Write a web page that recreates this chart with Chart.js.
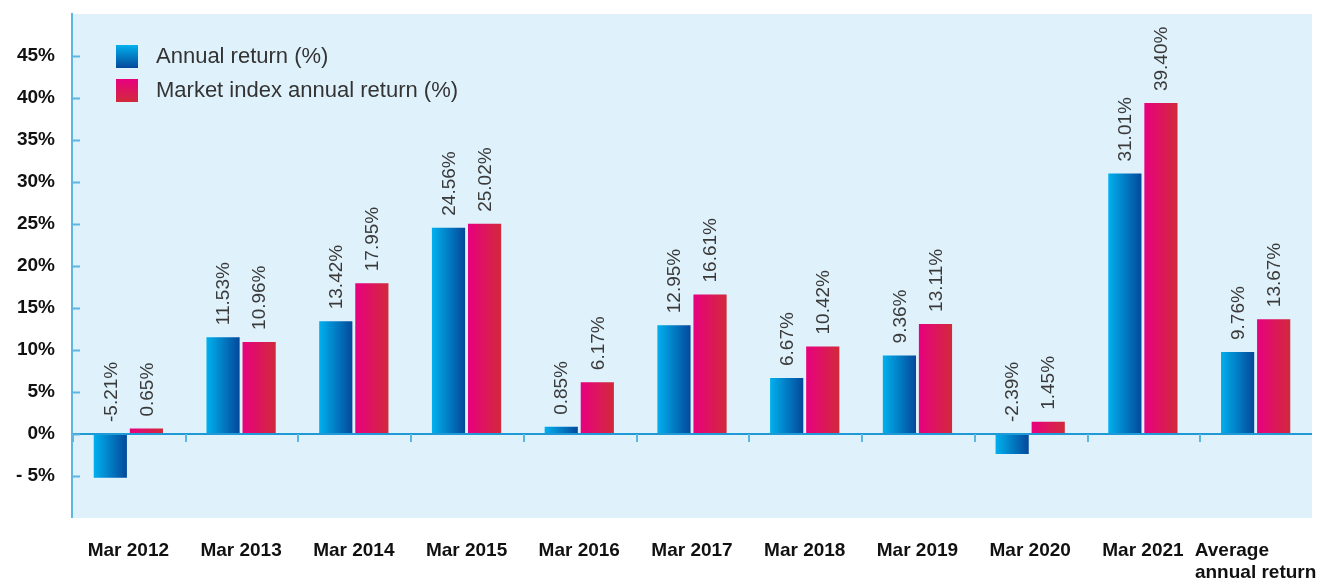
<!DOCTYPE html>
<html>
<head>
<meta charset="utf-8">
<script src="https://cdn.jsdelivr.net/npm/chart.js@4.4.1/dist/chart.umd.min.js"></script>
<style>
  html, body { margin: 0; padding: 0; background: #fff; }
  #wrap { width: 1323px; height: 580px; }
</style>
</head>
<body>
<div id="wrap"><canvas id="rendimientoChart" width="1323" height="580"></canvas></div>
<script>
// Datos
const categorias = ['Mar 2012', 'Mar 2013', 'Mar 2014', 'Mar 2015', 'Mar 2016', 'Mar 2017',
    'Mar 2018', 'Mar 2019', 'Mar 2020', 'Mar 2021', ['Average         ', 'annual return']];
const rentabilidadAnual = [-5.21, 11.53, 13.42, 24.56, 0.85, 12.95, 6.67, 9.36, -2.39, 31.01, 9.76];
const rentabilidadIndice = [0.65, 10.96, 17.95, 25.02, 6.17, 16.61, 10.42, 13.11, 1.45, 39.40, 13.67];
const ticksEjeY = [-5, 0, 5, 10, 15, 20, 25, 30, 35, 40, 45];
const etiquetasSeries = ['Annual return (%)', 'Market index annual return (%)'];

const FUENTE = "'Liberation Sans', Arial, Helvetica, sans-serif";

// Colores de los degradados [izquierda/arriba, derecha/abajo]
const degradados = [
    ['#00b0ee', '#04489a'],
    ['#e8007f', '#d12a3b']
];

// Fondo del área del gráfico + marcas de los ejes
const fondoPlugin = {
    id: 'fondo',
    beforeDraw(chart) {
        const { ctx, chartArea } = chart;
        ctx.save();
        ctx.fillStyle = '#dff1fb';
        ctx.fillRect(chartArea.left, chartArea.top, chartArea.right - chartArea.left, chartArea.bottom - chartArea.top);
        ctx.restore();
    },
    afterDraw(chart) {
        const { ctx, scales } = chart;
        const x = scales.x, y = scales.y;
        const y0 = y.getPixelForValue(0);
        ctx.save();
        ctx.strokeStyle = '#5db5e3';
        ctx.lineWidth = 2;
        // marcas del eje Y (hacia dentro)
        ticksEjeY.forEach(v => {
            const py = Math.round(y.getPixelForValue(v)) + 0.5;
            ctx.beginPath();
            ctx.moveTo(x.left, py);
            ctx.lineTo(x.left + 8, py);
            ctx.stroke();
        });
        // marcas entre categorías bajo la línea del cero
        const paso = x.getPixelForValue(1) - x.getPixelForValue(0);
        for (let i = 0; i < categorias.length; i++) {
            const px = Math.round(x.getPixelForValue(i) - paso / 2) + 1;
            ctx.beginPath();
            ctx.moveTo(px, y0);
            ctx.lineTo(px, y0 + 8);
            ctx.stroke();
        }
        ctx.restore();
    }
};

// Degradado horizontal en cada barra
const degradadoPlugin = {
    id: 'degradado',
    beforeDatasetsDraw(chart) {
        const ctx = chart.ctx;
        chart.data.datasets.forEach((ds, di) => {
            const meta = chart.getDatasetMeta(di);
            meta.data.forEach(bar => {
                const izq = bar.x - bar.width / 2;
                const g = ctx.createLinearGradient(izq, 0, izq + bar.width, 0);
                g.addColorStop(0, degradados[di][0]);
                g.addColorStop(1, degradados[di][1]);
                bar.options = Object.assign({}, bar.options, { backgroundColor: g });
            });
        });
    }
};

// Etiquetas de valor giradas sobre cada barra
const etiquetasPlugin = {
    id: 'etiquetas',
    afterDatasetsDraw(chart) {
        const ctx = chart.ctx;
        const y0 = chart.scales.y.getPixelForValue(0);
        ctx.save();
        ctx.font = '19px ' + FUENTE;
        ctx.fillStyle = '#3a3a3a';
        ctx.textAlign = 'left';
        ctx.textBaseline = 'middle';
        chart.data.datasets.forEach((ds, di) => {
            const meta = chart.getDatasetMeta(di);
            meta.data.forEach((bar, i) => {
                const v = ds.data[i];
                const arriba = v >= 0 ? bar.y : y0;
                ctx.save();
                ctx.translate(bar.x + 1, arriba - 12);
                ctx.rotate(-Math.PI / 2);
                ctx.fillText(v.toFixed(2) + '%', 0, 0);
                ctx.restore();
            });
        });
        ctx.restore();
    }
};

// Leyenda dentro del área del gráfico
const leyendaPlugin = {
    id: 'leyendaInterna',
    afterDraw(chart) {
        const { ctx, chartArea } = chart;
        ctx.save();
        ctx.font = '22px ' + FUENTE;
        ctx.textBaseline = 'middle';
        ctx.textAlign = 'left';
        etiquetasSeries.forEach((txt, i) => {
            const bx = chartArea.left + 44;
            const by = chartArea.top + 31 + i * 34;
            const g = ctx.createLinearGradient(0, by, 0, by + 23);
            g.addColorStop(0, degradados[i][0]);
            g.addColorStop(1, degradados[i][1]);
            ctx.fillStyle = g;
            ctx.fillRect(bx, by, 22, 23);
            ctx.fillStyle = '#333';
            ctx.fillText(txt, bx + 40, by + 12);
        });
        ctx.restore();
    }
};

const ctxRend = document.getElementById('rendimientoChart');
new Chart(ctxRend.getContext('2d'), {
    type: 'bar',
    data: {
        labels: categorias,
        datasets: [{
            label: etiquetasSeries[0],
            data: rentabilidadAnual,
            backgroundColor: degradados[0][0],
            borderWidth: 0
        }, {
            label: etiquetasSeries[1],
            data: rentabilidadIndice,
            backgroundColor: degradados[1][0],
            borderWidth: 0
        }]
    },
    options: {
        responsive: false,
        animation: false,
        devicePixelRatio: 1,
        categoryPercentage: 0.64,
        barPercentage: 0.92,
        layout: {
            padding: { top: 14, right: 11, left: 0, bottom: 0 }
        },
        scales: {
            x: {
                grid: { display: false },
                border: { display: false },
                ticks: {
                    color: '#111',
                    font: { family: FUENTE, size: 19, weight: 'bold', lineHeight: 1.15 },
                    padding: 14,
                    maxRotation: 0,
                    autoSkip: false
                },
                afterFit(scale) {
                    scale.height = 62;
                    scale.paddingLeft = 0;
                    scale.paddingRight = 0;
                }
            },
            y: {
                min: -10,
                max: 50,
                afterBuildTicks(scale) {
                    scale.ticks = ticksEjeY.map(v => ({ value: v }));
                },
                afterFit(scale) {
                    scale.width = 72;
                    scale.paddingTop = 0;
                    scale.paddingBottom = 0;
                },
                border: { display: true, color: '#5db5e3', width: 2 },
                grid: {
                    drawTicks: false,
                    color: c => (c.tick && c.tick.value === 0) ? '#1f9ad6' : 'rgba(0,0,0,0)',
                    lineWidth: c => (c.tick && c.tick.value === 0) ? 2 : 0
                },
                ticks: {
                    color: '#111',
                    padding: 17,
                    font: { family: FUENTE, size: 19, weight: 'bold' },
                    callback: v => v < 0 ? '- ' + Math.abs(v) + '%' : v + '%'
                }
            }
        },
        plugins: {
            legend: { display: false },
            tooltip: { enabled: false }
        }
    },
    plugins: [fondoPlugin, degradadoPlugin, etiquetasPlugin, leyendaPlugin]
});
</script>
</body>
</html>
